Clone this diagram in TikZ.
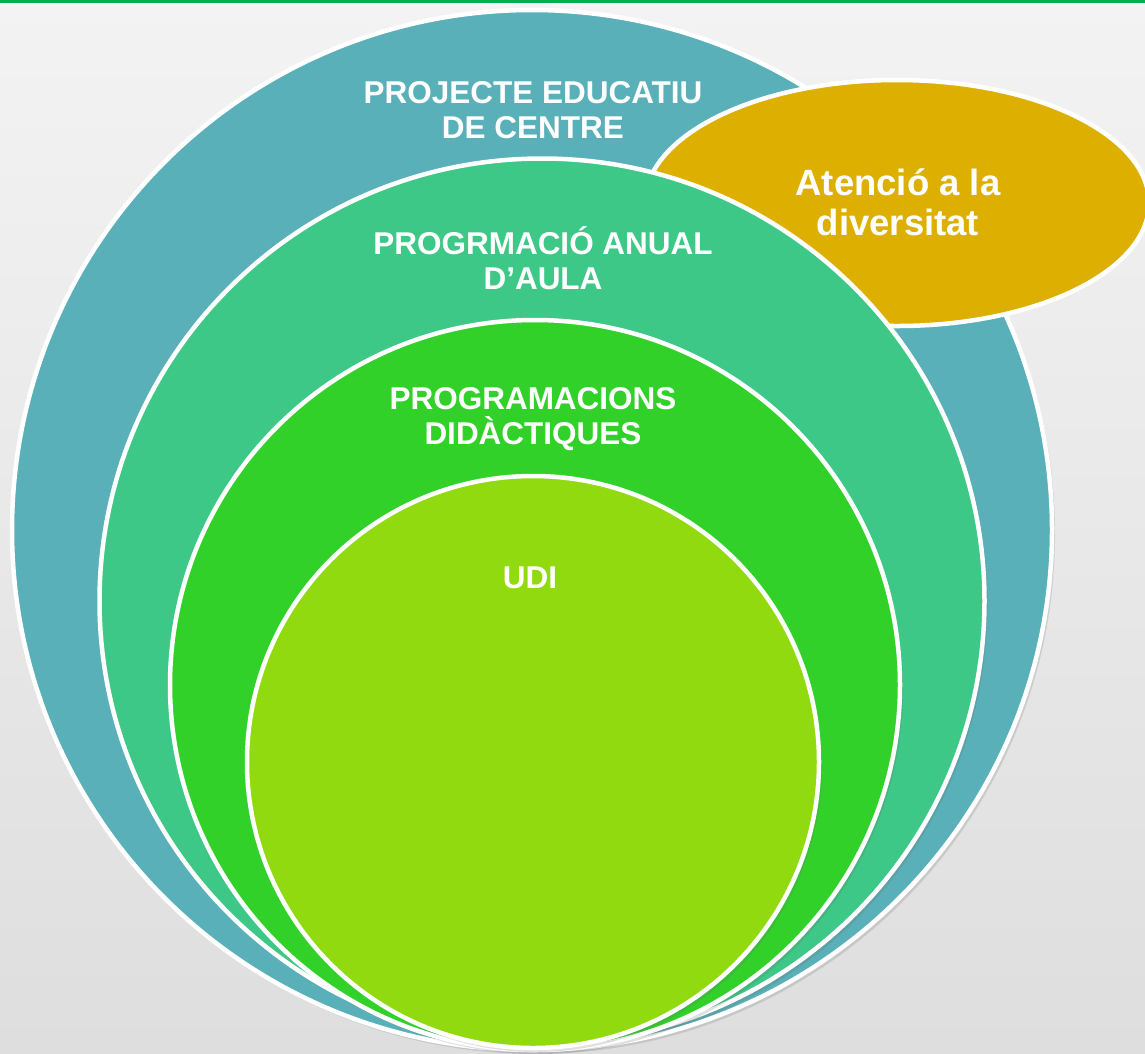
\documentclass[tikz,border=0pt]{standalone}
\usepackage{fontspec}
\setmainfont{Liberation Sans}
\usetikzlibrary{shapes.geometric,shadows}
\definecolor{bgtop}{HTML}{F3F3F3}
\definecolor{bgbot}{HTML}{DEDEDE}
\definecolor{topline}{HTML}{00B050}
\definecolor{teal}{HTML}{5AB0B8}
\definecolor{midgreen}{HTML}{3EC887}
\definecolor{brightgreen}{HTML}{31D12A}
\definecolor{lime}{HTML}{92DA10}
\definecolor{gold}{HTML}{DDAF00}
\tikzset{
  ring/.style={circle, draw=white, line width=4.5pt, inner sep=0pt,
    drop shadow={shadow xshift=3pt, shadow yshift=-4pt, opacity=0.2, fill=black!60}},
  oval/.style={ellipse, draw=white, line width=4.5pt, inner sep=0pt, fill=gold},
  lab/.style={text=white, align=center, inner sep=0pt,
    font=\bfseries\fontsize{31.5}{35}\selectfont},
  biglab/.style={text=white, align=center, inner sep=0pt,
    font=\bfseries\fontsize{36.5}{40}\selectfont}
}
\begin{document}
\begin{tikzpicture}[x=1pt,y=-1pt]
\useasboundingbox (0,0) rectangle (1145,1053);
\shade[top color=bgtop, bottom color=bgbot] (0,0) rectangle (1145,1053);
\fill[topline] (0,0) rectangle (1145,2.5);
\node[ring, fill=teal, minimum size=1040pt] (c1) at (532,530) {};
\node[oval, minimum width=504pt, minimum height=246pt] (att) at (897,203) {};
\node[ring, fill=midgreen, minimum size=885pt] (c2) at (542,601) {};
\node[ring, fill=brightgreen, minimum size=730pt] (c3) at (535,685) {};
\node[ring, fill=lime, minimum size=572pt] (c4) at (533,762) {};
\node[lab] (t1) at (533,110) {PROJECTE EDUCATIU\\DE CENTRE};
\node[lab] (t2) at (543,258) {PROGRMACIÓ ANUAL\\D’AULA};
\node[lab] (t3) at (533,419) {PROGRAMACIONS\\DIDÀCTIQUES};
\node[lab] (t4) at (530,578) {UDI};
\node[biglab] (t5) at (898,202) {Atenció a la\\diversitat};
\end{tikzpicture}
\end{document}
